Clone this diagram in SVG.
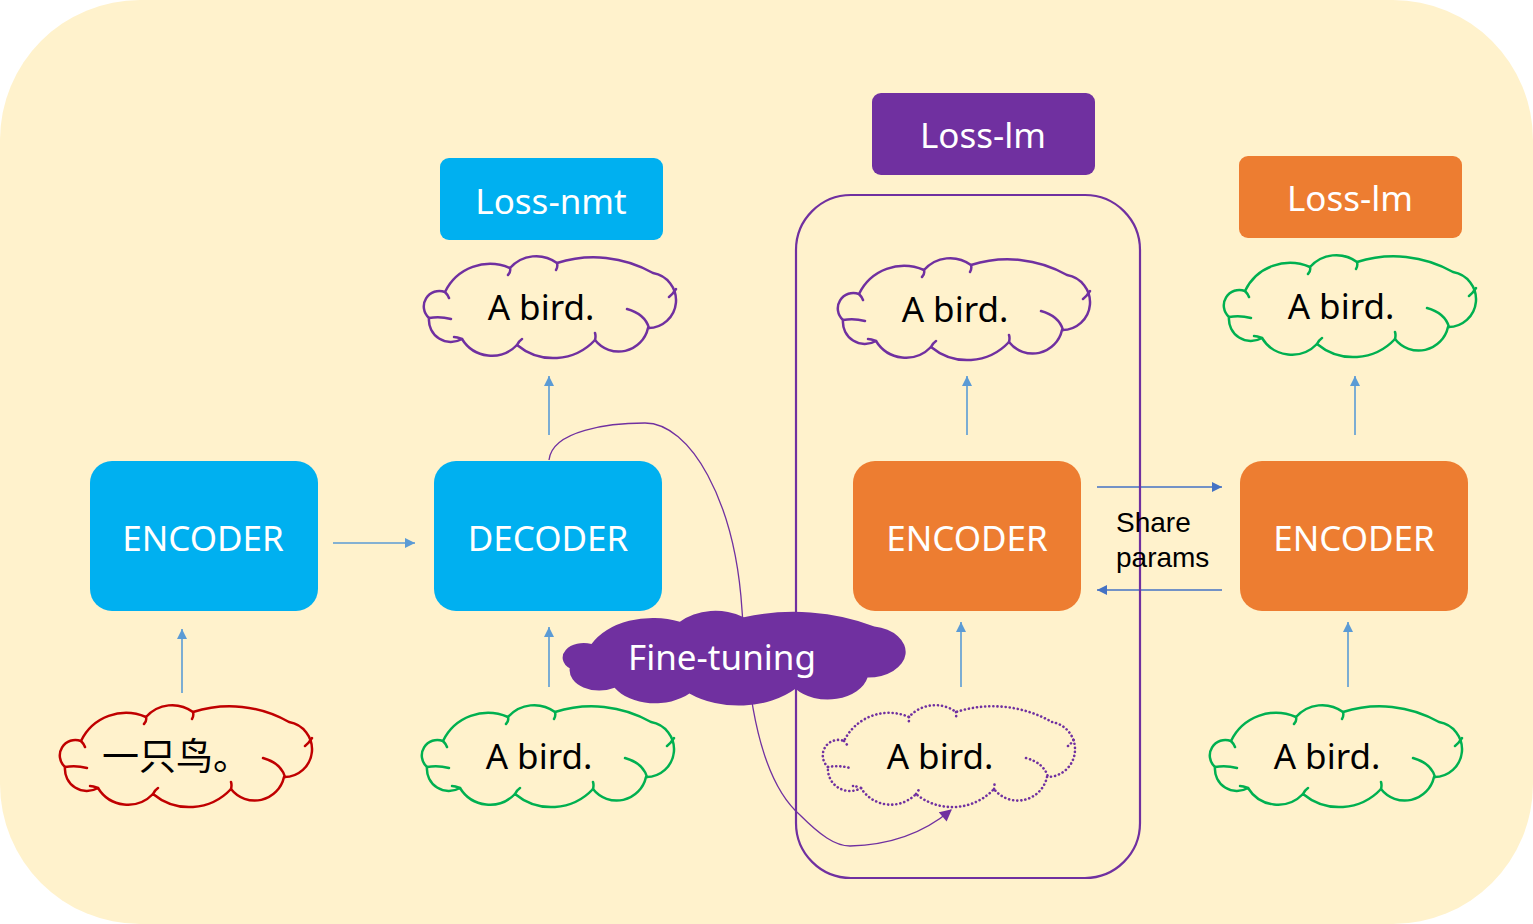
<svg xmlns="http://www.w3.org/2000/svg" width="1533" height="924" viewBox="0 0 1533 924">
<style>
.t{font-family:"Noto Sans","Open Sans","DejaVu Sans",sans-serif;font-size:35px;text-anchor:middle}
.w{fill:#ffffff}
.k{fill:#000000}
.cj{font-family:"Noto Sans CJK SC","Noto Sans",sans-serif;font-size:37px;fill:#000;text-anchor:middle}
.sp{font-family:"Liberation Sans",Arial,sans-serif;font-size:28px;fill:#000}
.cl{fill:none;stroke-width:2.5;stroke-linejoin:round;stroke-linecap:round}
.pu{stroke:#7030A0}
.gr{stroke:#00B050}
.rd{stroke:#C00000}
.dot{stroke-dasharray:0.1 4;stroke-width:2.6;stroke-linecap:round}
.ar{stroke:#5B9BD5;stroke-width:1.6;fill:none;marker-end:url(#ab)}
.ar2{stroke:#4472C4;stroke-width:1.3;fill:none;marker-end:url(#ab2)}
</style>
<defs>
<marker id="ab" viewBox="0 0 10 10" refX="10" refY="5" markerWidth="11" markerHeight="10" orient="auto" markerUnits="userSpaceOnUse"><path d="M0,0 L10,5 L0,10 Z" fill="#5B9BD5"/></marker>
<marker id="ab2" viewBox="0 0 10 10" refX="10" refY="5" markerWidth="12" markerHeight="10" orient="auto" markerUnits="userSpaceOnUse"><path d="M0,0 L10,5 L0,10 Z" fill="#4472C4"/></marker>
<marker id="ap" viewBox="0 0 10 10" refX="9" refY="5" markerWidth="13" markerHeight="12" orient="auto" markerUnits="userSpaceOnUse"><path d="M0,0 L10,5 L0,10 Z" fill="#7030A0"/></marker>
<path id="co" d="M -123,10 A 15.5 15.5 0 0 1 -107,-16 A 50 50 0 0 1 -42,-40 A 35 35 0 0 1 5,-45 A 120 120 0 0 1 101,-35 A 27.7 27.7 0 0 1 96,20 A 30 30 0 0 1 43,32 A 57 57 0 0 1 -35,37 A 35 35 0 0 1 -90,31 A 22 22 0 0 1 -123,10 Z"/>
<path id="ch" d="M -123,10 Q -112,8 -101,11 M 75,1 Q 93,6 97,20 M 117,-11 Q 121,-14 124,-19 M -42,-40 Q -41,-36 -44,-33 M 5,-45 Q 6,-41 4,-38 M 43,32 Q 44,28 43,25 M -35,37 Q -33,33 -30,31 M -90,31 Q -95,29 -98,29 M -107,-16 Q -104,-13 -103,-10"/>
</defs>
<rect width="1533" height="924" fill="#ffffff"/>
<rect x="0" y="0" width="1533" height="924" rx="140" ry="140" fill="#FFF2CC"/>

<g id="connectors">
<line class="ar" x1="182" y1="693" x2="182" y2="629"/>
<line class="ar" x1="333" y1="543" x2="415" y2="543"/>
<line class="ar" x1="549" y1="687" x2="549" y2="627"/>
<line class="ar" x1="549" y1="435" x2="549" y2="376"/>
<line class="ar" x1="967" y1="435" x2="967" y2="376"/>
<line class="ar" x1="961" y1="687" x2="961" y2="622"/>
<line class="ar" x1="1355" y1="435" x2="1355" y2="376"/>
<line class="ar" x1="1348" y1="687" x2="1348" y2="622"/>
<line class="ar2" x1="1097" y1="487" x2="1222" y2="487"/>
<line class="ar2" x1="1222" y1="590" x2="1097" y2="590"/>
<path d="M 549,460 C 552,430 610,423 645,423 C 690,423 735,500 742,610 C 748,700 760,780 800,815 C 820,835 835,846 850,846 C 890,845 925,832 951,810" fill="none" stroke="#7030A0" stroke-width="1.3" marker-end="url(#ap)"/>
</g>

<g id="group-box"><rect x="796" y="195" width="344" height="683" rx="55" ry="55" fill="none" stroke="#7030A0" stroke-width="2.2"/></g>

<g id="loss-nmt"><rect x="440" y="158" width="223" height="82" rx="9" fill="#00B0F0"/><text class="t w" x="551" y="214">Loss-nmt</text></g>
<g id="loss-lm-purple"><rect x="872" y="93" width="223" height="82" rx="9" fill="#7030A0"/><text class="t w" x="983" y="148">Loss-lm</text></g>
<g id="loss-lm-orange"><rect x="1239" y="156" width="223" height="82" rx="9" fill="#ED7D31"/><text class="t w" x="1350" y="211">Loss-lm</text></g>

<g id="encoder-blue"><rect x="90" y="461" width="228" height="150" rx="22" fill="#00B0F0"/><text class="t w" x="203" y="551">ENCODER</text></g>
<g id="decoder"><rect x="434" y="461" width="228" height="150" rx="22" fill="#00B0F0"/><text class="t w" x="548" y="551">DECODER</text></g>
<g id="encoder-orange-1"><rect x="853" y="461" width="228" height="150" rx="22" fill="#ED7D31"/><text class="t w" x="967" y="551">ENCODER</text></g>
<g id="encoder-orange-2"><rect x="1240" y="461" width="228" height="150" rx="22" fill="#ED7D31"/><text class="t w" x="1354" y="551">ENCODER</text></g>

<g id="share-params"><text class="sp" x="1116" y="532">Share</text><text class="sp" x="1116" y="567">params</text></g>

<g id="cloud-top-1" transform="translate(552,308)"><use href="#co" class="cl pu"/><use href="#ch" class="cl pu"/><text class="t k" x="-11" y="12">A bird.</text></g>
<g id="cloud-top-2" transform="translate(966,310)"><use href="#co" class="cl pu"/><use href="#ch" class="cl pu"/><text class="t k" x="-11" y="12">A bird.</text></g>
<g id="cloud-top-3" transform="translate(1352,307)"><use href="#co" class="cl gr"/><use href="#ch" class="cl gr"/><text class="t k" x="-11" y="12">A bird.</text></g>
<g id="cloud-zh" transform="translate(188,757)"><use href="#co" class="cl rd"/><use href="#ch" class="cl rd"/><text class="cj" x="-12" y="13">一只鸟。</text></g>
<g id="cloud-bot-2" transform="translate(550,757)"><use href="#co" class="cl gr"/><use href="#ch" class="cl gr"/><text class="t k" x="-11" y="12">A bird.</text></g>
<g id="cloud-bot-3" transform="translate(951,757)"><use href="#co" class="cl pu dot"/><use href="#ch" class="cl pu dot"/><text class="t k" x="-11" y="12">A bird.</text></g>
<g id="cloud-bot-4" transform="translate(1338,757)"><use href="#co" class="cl gr"/><use href="#ch" class="cl gr"/><text class="t k" x="-11" y="12">A bird.</text></g>

<g id="fine-tuning"><use href="#co" fill="#7030A0" transform="translate(737,659) scale(1.36,0.93)"/><text class="t w" x="722" y="670">Fine-tuning</text></g>
</svg>
